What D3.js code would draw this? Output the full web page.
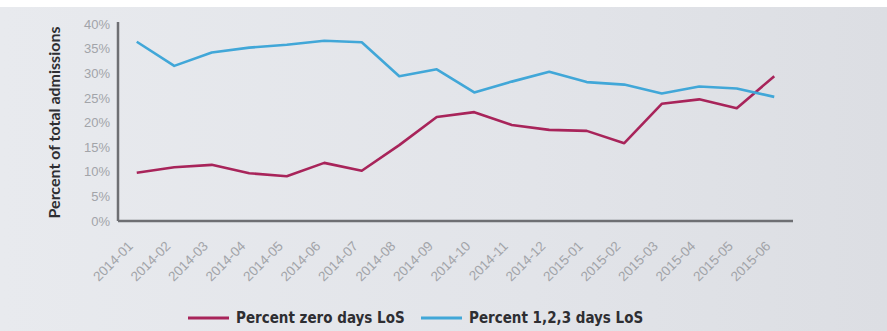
<!DOCTYPE html>
<html>
<head>
<meta charset="utf-8">
<script src="https://cdn.jsdelivr.net/npm/d3@7"></script>
<style>
  body { margin: 0; background: #fff; }
  svg { display: block; font-family: Lato, "Open Sans", sans-serif; }
</style>
</head>
<body>
<svg id="chart" width="887" height="331"></svg>
<script>
// chart data
const months = ["2014-01", "2014-02", "2014-03", "2014-04", "2014-05", "2014-06",
  "2014-07", "2014-08", "2014-09", "2014-10", "2014-11", "2014-12",
  "2015-01", "2015-02", "2015-03", "2015-04", "2015-05", "2015-06"];
const zeroDays = [9.8, 10.9, 11.4, 9.7, 9.1, 11.8, 10.2, 15.4, 21.1, 22.1, 19.5, 18.5,
  18.3, 15.8, 23.8, 24.7, 22.9, 29.4];
const oneToThreeDays = [36.4, 31.5, 34.2, 35.2, 35.8, 36.6, 36.3, 29.4, 30.8, 26.1, 28.3, 30.3,
  28.2, 27.7, 25.9, 27.3, 26.9, 25.2];
const yTicks = [0, 5, 10, 15, 20, 25, 30, 35, 40];

const series = [
  { name: "Percent zero days LoS", values: zeroDays, color: "#a8245a" },
  { name: "Percent 1,2,3 days LoS", values: oneToThreeDays, color: "#41a7d8" }
];

const svg = d3.select("#chart");
const width = 887, height = 331;
const margin = { top: 24, right: 94, bottom: 110, left: 118 };

// background
const defs = svg.append("defs");
const grad = defs.append("linearGradient").attr("id", "bg").attr("x1", 0).attr("x2", 1);
grad.append("stop").attr("offset", "0%").attr("stop-color", "#e8eaee");
grad.append("stop").attr("offset", "60%").attr("stop-color", "#e2e4e9");
grad.append("stop").attr("offset", "100%").attr("stop-color", "#dcdee3");
svg.append("rect").attr("y", 7).attr("width", width).attr("height", height - 7).attr("fill", "url(#bg)");

const xScale = d3.scaleBand().domain(months).range([margin.left, width - margin.right]);
const yScale = d3.scaleLinear().domain([0, 40]).range([height - margin.bottom, margin.top]);

// y axis
const yAxis = d3.axisLeft(yScale).tickValues(yTicks).tickSize(0).tickPadding(8)
  .tickFormat(d => d + "%");
svg.append("g")
  .attr("transform", `translate(${margin.left},0)`)
  .call(yAxis)
  .call(g => g.select(".domain").attr("stroke", "#6e6f73").attr("stroke-width", 2.5)
    .attr("d", `M0,${margin.top - 2}V${height - margin.bottom}`))
  .call(g => g.selectAll("text").attr("fill", "#a2a4a9").attr("font-size", 13));

// x axis
const xAxis = d3.axisBottom(xScale).tickSize(0).tickPadding(0);
svg.append("g")
  .attr("transform", `translate(0,${height - margin.bottom})`)
  .call(xAxis)
  .call(g => g.select(".domain").attr("stroke", "#6e6f73").attr("stroke-width", 2.5)
    .attr("d", `M${margin.left},0H${width - margin.right}`))
  .call(g => g.selectAll("text")
    .attr("fill", "#a2a4a9").attr("font-size", 13.5)
    .attr("text-anchor", "end")
    .attr("y", 0).attr("dy", 0)
    .attr("transform", "translate(-3,26) rotate(-45)"));

// y title
svg.append("text")
  .attr("transform", `translate(60,${(margin.top + height - margin.bottom) / 2}) rotate(-90)`)
  .attr("text-anchor", "middle")
  .attr("font-size", 16)
  .attr("font-weight", "bold")
  .attr("fill", "#2e2e32")
  .text("Percent of total admissions");

// lines
const line = d3.line()
  .x((d, i) => xScale(months[i]) + xScale.bandwidth() / 2)
  .y(d => yScale(d));

svg.selectAll(".series")
  .data(series)
  .enter()
  .append("path")
  .attr("class", "series")
  .attr("fill", "none")
  .attr("stroke", d => d.color)
  .attr("stroke-width", 2.6)
  .attr("stroke-linejoin", "round")
  .attr("d", d => line(d.values));

// legend
const legendX = [188, 421];
const legend = svg.selectAll(".legend")
  .data(series)
  .enter()
  .append("g")
  .attr("class", "legend")
  .attr("transform", (d, i) => `translate(${legendX[i]},318)`);
legend.append("line")
  .attr("x1", 0).attr("x2", 41)
  .attr("stroke", d => d.color).attr("stroke-width", 3);
legend.append("text")
  .attr("x", 48)
  .attr("dy", "0.35em")
  .attr("font-size", 15)
  .attr("font-weight", "bold")
  .attr("fill", "#2e2e32")
  .attr("font-family", "'Liberation Sans Narrow', 'DejaVu Sans Condensed', sans-serif")
  .text(d => d.name);
</script>
</body>
</html>
